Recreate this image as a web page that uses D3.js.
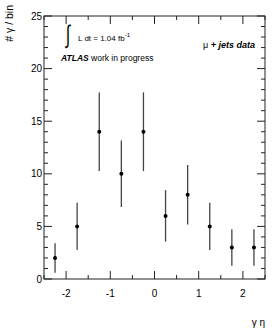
<!DOCTYPE html>
<html><head><meta charset="utf-8">
<script src="https://cdn.jsdelivr.net/npm/d3@7"></script>
<style>body{margin:0;background:#fff}svg{display:block}text{font-family:"Liberation Sans",Arial,sans-serif}</style>
</head><body>
<script>
const binCenters = [-2.25, -1.75, -1.25, -0.75, -0.25, 0.25, 0.75, 1.25, 1.75, 2.25];
const counts = [2, 5, 14, 10, 14, 6, 8, 5, 3, 3];
const errors = [1.41, 2.24, 3.74, 3.16, 3.74, 2.45, 2.83, 2.24, 1.73, 1.73];
const xTickLabels = [-2, -1, 0, 1, 2];
const yTickLabels = [0, 5, 10, 15, 20, 25];

const W = 279, H = 332;
const m = {l: 44, r: 14, t: 16, b: 53};
const svg = d3.select("body").append("svg").attr("width", W).attr("height", H);
const x = d3.scaleLinear().domain([-2.5, 2.5]).range([m.l, W - m.r]);
const y = d3.scaleLinear().domain([0, 25]).range([H - m.b, m.t]);
const x0 = m.l, x1 = W - m.r, y0 = H - m.b, y1 = m.t;
const g = svg.append("g");

// frame
g.append("rect").attr("x", x0).attr("y", y1).attr("width", x1 - x0).attr("height", y0 - y1)
  .attr("fill", "none").attr("stroke", "#222").attr("stroke-width", 1);

const tickCol = "#222";
// x ticks
const xMinor = d3.range(-2.5, 2.51, 0.5);
xMinor.forEach(v => {
  const major = Math.abs(v - Math.round(v)) < 1e-6;
  const len = major ? 8 : 4;
  g.append("line").attr("x1", x(v)).attr("x2", x(v)).attr("y1", y0).attr("y2", y0 - len).attr("stroke", tickCol);
  g.append("line").attr("x1", x(v)).attr("x2", x(v)).attr("y1", y1).attr("y2", y1 + len).attr("stroke", tickCol);
});
// y ticks
d3.range(0, 26, 1).forEach(v => {
  const len = v % 5 === 0 ? 8 : 4;
  g.append("line").attr("x1", x0).attr("x2", x0 + len).attr("y1", y(v)).attr("y2", y(v)).attr("stroke", tickCol);
  g.append("line").attr("x1", x1).attr("x2", x1 - len).attr("y1", y(v)).attr("y2", y(v)).attr("stroke", tickCol);
});
// tick labels
xTickLabels.forEach(v => {
  g.append("text").attr("x", x(v)).attr("y", y0 + 18).attr("text-anchor", "middle")
    .attr("font-size", 10).attr("fill", "#000").text(v < 0 ? "-" + Math.abs(v) : v);
});
yTickLabels.forEach(v => {
  g.append("text").attr("x", x0 - 2).attr("y", y(v) + 3.6).attr("text-anchor", "end")
    .attr("font-size", 10).attr("fill", "#000").text(v);
});

// axis titles
svg.append("text").attr("transform", `translate(13,5) rotate(-90)`).attr("text-anchor", "end")
  .attr("font-size", 10.5).text("# γ / bin");
svg.append("text").attr("x", x1).attr("y", 326).attr("text-anchor", "end")
  .attr("font-size", 10).text("γ η");

// error bars & markers
const pts = binCenters.map((c, i) => ({c, v: counts[i], e: errors[i]}));
g.selectAll(".eb").data(pts).enter().append("line")
  .attr("x1", d => x(d.c)).attr("x2", d => x(d.c))
  .attr("y1", d => y(Math.max(0, d.v - d.e))).attr("y2", d => y(d.v + d.e))
  .attr("stroke", "#444").attr("stroke-width", 1.3);
g.selectAll(".pt").data(pts).enter().append("circle")
  .attr("cx", d => x(d.c)).attr("cy", d => y(d.v)).attr("r", 2).attr("fill", "#000");

// annotations
svg.append("text").attr("transform", "translate(66,43) scale(0.7,1.15)").attr("font-size", 22)
  .attr("font-family", "DejaVu Sans").text("∫");
const lum = svg.append("text").attr("x", 78).attr("y", 41).attr("font-size", 8);
lum.append("tspan").text("L dt = 1.04 fb");
lum.append("tspan").attr("dy", -4).attr("font-size", 6).text("-1");
const at = svg.append("text").attr("x", 61).attr("y", 61).attr("font-size", 8.5);
at.append("tspan").attr("font-weight", "bold").attr("font-style", "italic").text("ATLAS");
at.append("tspan").text(" work in progress");
const mu = svg.append("text").attr("x", 255).attr("y", 48).attr("text-anchor", "end").attr("font-size", 9);
mu.append("tspan").text("μ ");
mu.append("tspan").attr("font-weight", "bold").attr("font-style", "italic").text("+ jets data");
</script>
</body></html>
